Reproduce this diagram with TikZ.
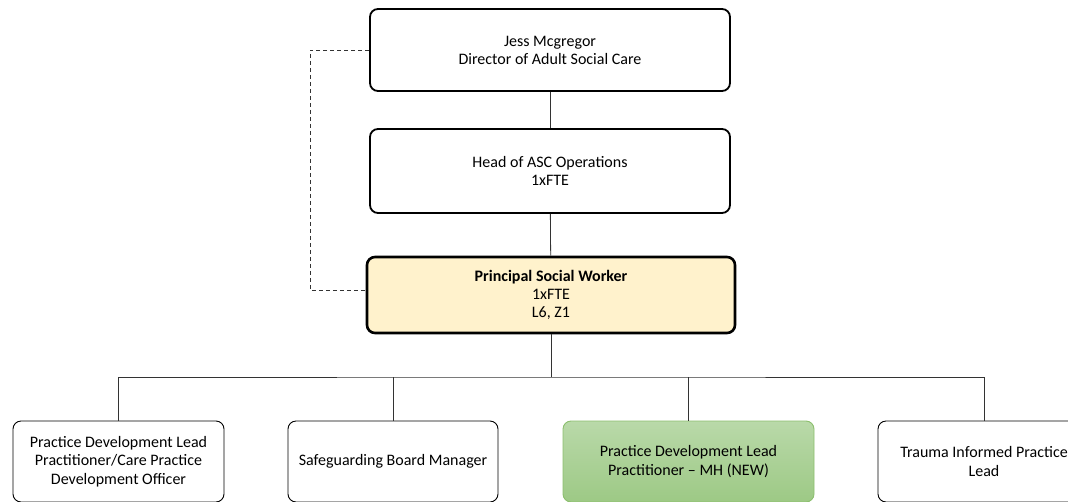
\documentclass[tikz,border=0pt]{standalone}
\usepackage{fontspec}
\setmainfont{Carlito}
\definecolor{pswyellow}{HTML}{FFF2CC}
\definecolor{newgreentop}{HTML}{B9D9A9}
\definecolor{newgreenbot}{HTML}{9DC985}
\definecolor{newgreenline}{HTML}{8CBF6E}
\tikzset{
  rolebox/.style={draw=black,rounded corners=8pt,align=center,font=\fontsize{16}{18}\selectfont,inner sep=0pt},
  toprole/.style={rolebox,line width=1.8pt,minimum width=360pt,minimum height=82pt},
  pswrole/.style={rolebox,line width=2.6pt,fill=pswyellow,minimum width=368pt,minimum height=76pt},
  teamrole/.style={rolebox,line width=0.9pt,minimum height=81pt,font=\fontsize{16}{18.5}\selectfont},
  link/.style={draw=black!80,line width=0.8pt}
}
\begin{document}
\begin{tikzpicture}[x=1pt,y=-1pt]
\useasboundingbox (0,0) rectangle (1068,501);
\clip (0,0) rectangle (1068,501);

\node[toprole] (dir) at (550,50) {Jess Mcgregor\\Director of Adult Social Care};
\node[toprole,minimum height=84pt] (head) at (550,171) {Head of ASC Operations\\1xFTE};
\node[pswrole] (psw) at (551,295) {\textbf{Principal Social Worker}\\1xFTE\\L6, Z1};

\node[teamrole,minimum width=211pt] (pdl) at (118.5,461.5) {Practice Development Lead\\Practitioner/Care Practice\\Development Officer};
\node[teamrole,minimum width=210pt] (sbm) at (393,461.5) {Safeguarding Board Manager};
\node[teamrole,minimum width=251pt,draw=newgreenline,top color=newgreentop,bottom color=newgreenbot] (pdmh) at (688.5,461.5) {Practice Development Lead\\Practitioner -- MH (NEW)};
\node[teamrole,minimum width=212pt] (tip) at (984,461.5) {Trauma Informed Practice\\Lead};

\draw[link] (dir) -- (head);
\draw[link] (head) -- (psw);

% dotted line to the director
\draw[link,dashed,dash pattern=on 4pt off 3pt] (dir.west) -| (310,290) -- (psw.west |- 0,290);

% bus to the team
\coordinate (bus) at (551,377);
\draw[link] (psw) -- (bus);
\draw[link] (pdl.north) |- (bus) -| (tip.north);
\draw[link] (sbm.north) -- (sbm.north |- bus);
\draw[link] (pdmh.north) -- (pdmh.north |- bus);

\end{tikzpicture}
\end{document}
